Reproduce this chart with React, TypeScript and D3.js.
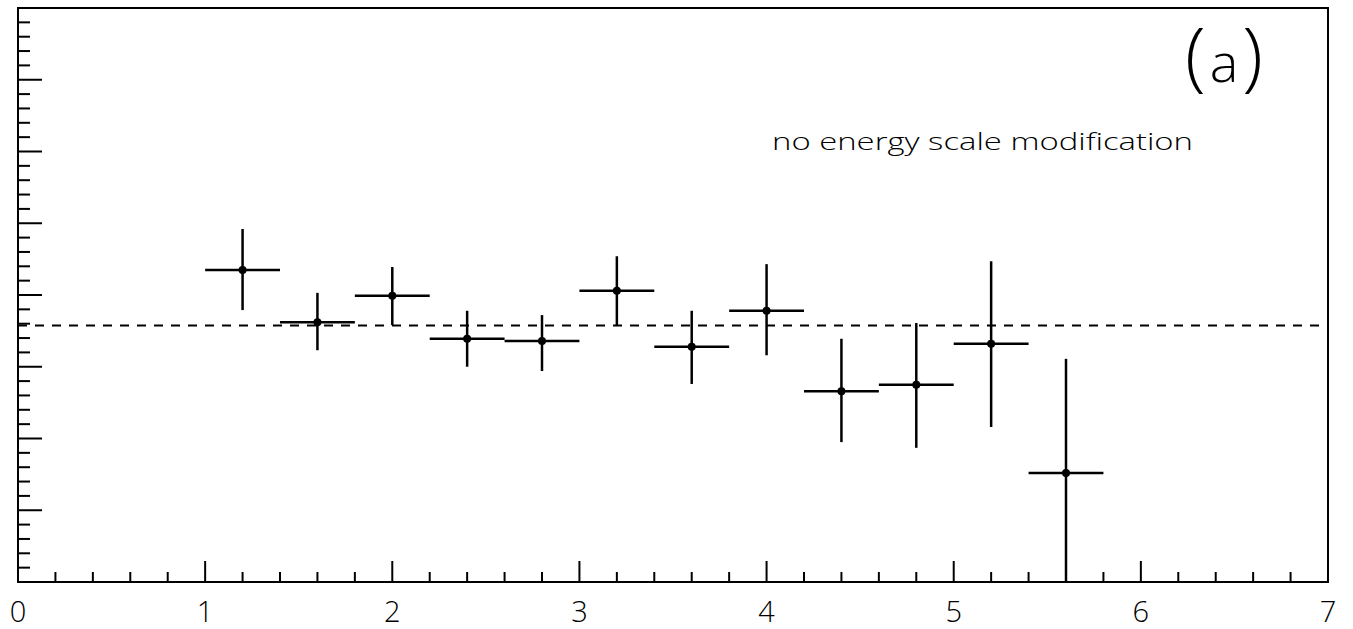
import React from "react";
import * as d3 from "d3";

// Bin centres (x), bin half-widths and measured values with asymmetric errors
const binCenters = [1.2, 1.6, 2.0, 2.4, 2.8, 3.2, 3.6, 4.0, 4.4, 4.8, 5.2, 5.6];
const binHalfWidth = [0.2, 0.2, 0.2, 0.2, 0.2, 0.2, 0.2, 0.2, 0.2, 0.2, 0.2, 0.2];
const values = [4.35, 3.62, 3.99, 3.39, 3.36, 4.06, 3.28, 3.78, 2.66, 2.75, 3.32, 1.52];
const upperEdge = [4.92, 4.03, 4.39, 3.78, 3.72, 4.54, 3.78, 4.43, 3.39, 3.61, 4.47, 3.11];
const lowerEdge = [3.79, 3.23, 3.58, 3.0, 2.94, 3.57, 2.76, 3.16, 1.95, 1.87, 2.16, 0.0];

const referenceLevel = 3.575;
const xTickLabels = ["0", "1", "2", "3", "4", "5", "6", "7"];
const panelLetter = "a";
const noteText = "no energy scale modification";

const W = 1353;
const H = 629;
const margin = { left: 18, right: 25, top: 8, bottom: 47 };
const font = "'Open Sans', 'DejaVu Sans', sans-serif";

export default function App() {
  const x = d3.scaleLinear().domain([0, 7]).range([margin.left, W - margin.right]);
  const y = d3.scaleLinear().domain([0, 8]).range([H - margin.bottom, margin.top]);

  const x0 = x(0), x1 = x(7), y0 = y(0), y1 = y(8);

  const xMajor = d3.range(0, 8, 1);
  const xMinor = d3.range(0, 7.0001, 0.2).filter((v) => Math.abs(v - Math.round(v)) > 1e-6);
  const yMajor = d3.range(0, 9, 1);
  const yMinor = d3.range(0, 8.0001, 0.2).filter((v) => Math.abs(v - Math.round(v)) > 1e-6);

  const data = binCenters.map((c, i) => ({
    c,
    hw: binHalfWidth[i],
    v: values[i],
    hi: upperEdge[i],
    lo: lowerEdge[i],
  }));

  const sw = 2.5;

  return (
    <svg
      width={W}
      height={H}
      viewBox={`0 0 ${W} ${H}`}
      style={{ position: "absolute", left: 0, top: 0, background: "#fff" }}
    >
      <rect x={0} y={0} width={W} height={H} fill="#fff" />

      {/* reference line */}
      <line
        x1={x0}
        x2={x1}
        y1={y(referenceLevel)}
        y2={y(referenceLevel)}
        stroke="#000"
        strokeWidth={2.2}
        strokeDasharray="9 8"
      />

      {/* data points with error bars */}
      {data.map((d, i) => (
        <g key={i} stroke="#000" strokeWidth={sw}>
          <line x1={x(d.c - d.hw)} x2={x(d.c + d.hw)} y1={y(d.v)} y2={y(d.v)} />
          <line x1={x(d.c)} x2={x(d.c)} y1={y(d.hi)} y2={y(d.lo)} />
          <circle cx={x(d.c)} cy={y(d.v)} r={4} fill="#000" stroke="none" />
        </g>
      ))}

      {/* frame */}
      <rect
        x={x0}
        y={y1}
        width={x1 - x0}
        height={y0 - y1}
        fill="none"
        stroke="#000"
        strokeWidth={2}
      />

      {/* x-axis ticks */}
      {xMajor.map((t) => (
        <line key={`xM${t}`} x1={x(t)} x2={x(t)} y1={y0} y2={y0 - 21} stroke="#000" strokeWidth={2} />
      ))}
      {xMinor.map((t, i) => (
        <line key={`xm${i}`} x1={x(t)} x2={x(t)} y1={y0} y2={y0 - 10} stroke="#000" strokeWidth={2} />
      ))}

      {/* y-axis ticks */}
      {yMajor.map((t) => (
        <line key={`yM${t}`} x1={x0} x2={x0 + 24} y1={y(t)} y2={y(t)} stroke="#000" strokeWidth={2} />
      ))}
      {yMinor.map((t, i) => (
        <line key={`ym${i}`} x1={x0} x2={x0 + 12} y1={y(t)} y2={y(t)} stroke="#000" strokeWidth={2} />
      ))}

      {/* x tick labels */}
      {xTickLabels.map((lab, i) => (
        <text
          key={`xl${i}`}
          x={x(i)}
          y={622}
          textAnchor="middle"
          fontFamily={font}
          fontWeight={300}
          fontSize={29}
          fill="#000"
        >
          {lab}
        </text>
      ))}

      {/* panel label */}
      <text
        x={1224}
        y={82}
        textAnchor="middle"
        fontFamily={font}
        fontWeight={300}
        fill="#000"
      >
        <tspan fontSize={76}>(</tspan>
        <tspan fontSize={54} dx={4}>{panelLetter}</tspan>
        <tspan fontSize={76} dx={4}>)</tspan>
      </text>

      <text
        x={772}
        y={150}
        fontFamily={font}
        fontWeight={300}
        fontSize={24}
        textLength={421}
        lengthAdjust="spacingAndGlyphs"
        fill="#000"
      >
        {noteText}
      </text>
    </svg>
  );
}
